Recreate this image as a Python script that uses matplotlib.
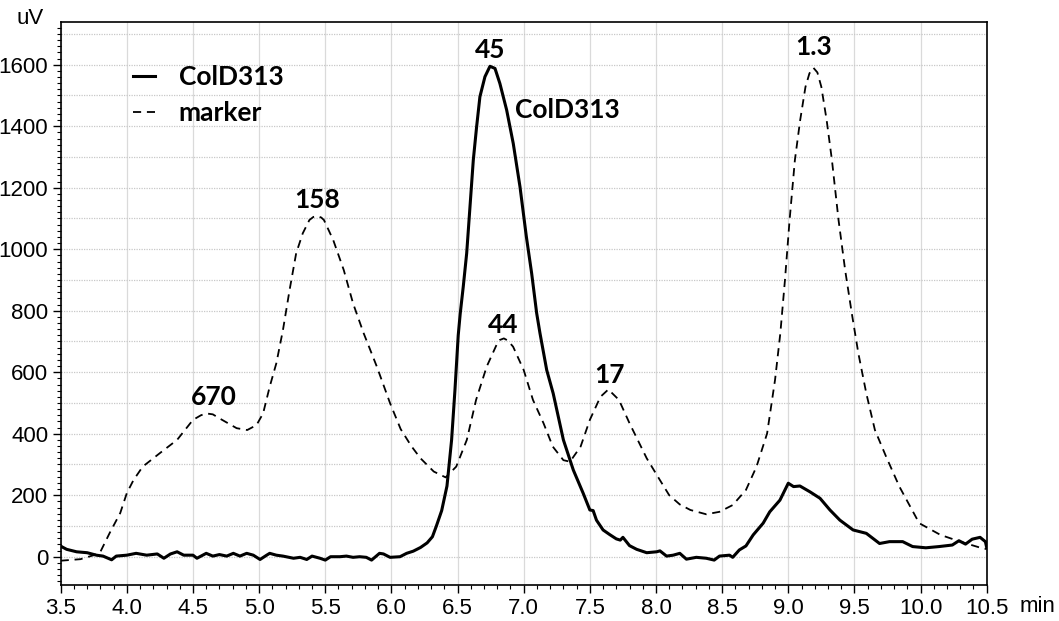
import matplotlib
matplotlib.use("Agg")
import matplotlib.pyplot as plt
from matplotlib.ticker import MultipleLocator, FixedLocator

# ---- data ----
marker_x = [3.50, 3.65, 3.75, 3.80, 3.87, 3.95, 4.00, 4.05, 4.12, 4.25, 4.38, 4.50, 4.56, 4.60, 4.65,
            4.70, 4.83, 4.91, 4.98, 5.03, 5.08, 5.13, 5.18, 5.23, 5.28, 5.33, 5.38, 5.41, 5.44, 5.47,
            5.49, 5.56, 5.64, 5.71, 5.79, 5.89, 5.99, 6.07, 6.15, 6.22, 6.32, 6.41, 6.49, 6.57, 6.64,
            6.72, 6.80, 6.82, 6.85, 6.88, 6.92, 7.00, 7.07, 7.15, 7.22, 7.30, 7.35, 7.43, 7.50, 7.58,
            7.64, 7.72, 7.80, 7.93, 8.03, 8.10, 8.18, 8.26, 8.38, 8.48, 8.58, 8.68, 8.76, 8.84, 8.90,
            8.94, 8.975, 9.01, 9.05, 9.09, 9.13, 9.16, 9.19, 9.22, 9.25, 9.29, 9.33, 9.38, 9.43, 9.48,
            9.53, 9.59, 9.655, 9.74, 9.84, 9.99, 10.15, 10.30, 10.47, 10.50]
marker_y = [-13, -8, 5, 16, 77, 142, 207, 249, 293, 337, 380, 445, 460, 466, 463,
            450, 418, 412, 428, 466, 553, 629, 737, 867, 987, 1052, 1095, 1105, 1108, 1103,
            1095, 1030, 932, 824, 727, 618, 499, 415, 360, 320, 277, 258, 293, 380, 510,
            618, 694, 705, 710, 703, 683, 607, 510, 434, 358, 314, 309, 358, 445, 520,
            544, 510, 434, 320, 249, 200, 170, 152, 138, 146, 168, 217, 293, 401, 575,
            727, 900, 1095, 1290, 1420, 1528, 1572, 1590, 1575, 1528, 1420, 1290, 1095, 932, 792,
            661, 531, 412, 325, 228, 109, 71, 49, 27, 25]

cold_x = [3.50, 3.51, 3.545, 3.62, 3.70, 3.77, 3.82, 3.885, 3.92, 4.00, 4.07, 4.15, 4.23, 4.28, 4.33,
          4.38, 4.43, 4.50, 4.53, 4.60, 4.65, 4.70, 4.755, 4.805, 4.855, 4.906, 4.956, 5.007, 5.057,
          5.08, 5.13, 5.18, 5.26, 5.31, 5.36, 5.40, 5.46, 5.50, 5.54, 5.61, 5.66, 5.71, 5.76, 5.81,
          5.85, 5.91, 5.94, 5.99, 6.065, 6.115, 6.165, 6.22, 6.27, 6.31, 6.34, 6.38, 6.42, 6.455,
          6.48, 6.505, 6.52, 6.543, 6.569, 6.594, 6.619, 6.644, 6.669, 6.707, 6.745, 6.783, 6.82,
          6.871, 6.921, 6.972, 7.02, 7.06, 7.098, 7.123, 7.174, 7.223, 7.30, 7.375, 7.45, 7.50,
          7.525, 7.55, 7.60, 7.65, 7.70, 7.73, 7.75, 7.80, 7.854, 7.93, 8.005, 8.03, 8.08, 8.13,
          8.18, 8.23, 8.305, 8.38, 8.44, 8.48, 8.556, 8.58, 8.63, 8.68, 8.735, 8.81, 8.86, 8.937,
          9.00, 9.04, 9.088, 9.164, 9.24, 9.315, 9.39, 9.49, 9.59, 9.69, 9.765, 9.865, 9.94, 10.04,
          10.14, 10.24, 10.29, 10.34, 10.39, 10.45, 10.49, 10.50]
cold_y = [35, 32, 24, 16, 13, 5, 2, -10, 2, 5, 11, 5, 9, -5, 9,
          16, 5, 5, -5, 11, 2, 7, 2, 11, 2, 11, 5, -9, 5,
          11, 5, 2, -5, -2, -9, 2, -5, -11, 0, 0, 2, -2, 0, -2,
          -11, 11, 9, -2, 0, 11, 18, 30, 45, 65, 100, 150, 230, 380,
          540, 720, 790, 878, 987, 1138, 1290, 1398, 1496, 1561, 1595, 1588, 1539,
          1453, 1344, 1203, 1041, 922, 792, 727, 607, 531, 380, 282, 206, 152,
          150, 119, 87, 72, 58, 54, 63, 36, 24, 13, 16, 19, 2, 5,
          11, -8, -2, -5, -11, 2, 5, -2, 22, 35, 71, 109, 146, 184,
          239, 228, 230, 211, 190, 152, 119, 87, 76, 43, 49, 49, 33, 29,
          33, 38, 52, 41, 57, 63, 49, 30]

peak_labels = ["670", "158", "45", "44", "17", "1.3"]
peak_label_x = [4.66, 5.437, 6.745, 6.843, 7.65, 9.194]
peak_label_y = [519, 1160, 1648, 753, 591, 1658]

series_names = ["ColD313", "marker"]
x_tick_values = [3.5, 4.0, 4.5, 5.0, 5.5, 6.0, 6.5, 7.0, 7.5, 8.0, 8.5, 9.0, 9.5, 10.0, 10.5]
y_tick_values = [0, 200, 400, 600, 800, 1000, 1200, 1400, 1600]

# ---- figure ----
fig = plt.figure(figsize=(10.59, 6.21), dpi=100)
ax = fig.add_axes([60.7 / 1059, 1 - 585 / 621, (986.7 - 60.7) / 1059, (585 - 22) / 621])
ax.set_xlim(3.5, 10.5)
ax.set_ylim(-92, 1739)

# grid
for gx in x_tick_values:
    ax.axvline(gx, color="#dadada", lw=0.9, zorder=0)
for gy in range(0, 1800, 100):
    ax.axhline(gy, color="#c8c8c8", lw=0.9, ls=(0, (1, 1)), zorder=0)

l1, = ax.plot(cold_x, cold_y, color="black", lw=2.2, solid_joinstyle="round", zorder=3)
l2, = ax.plot(marker_x, marker_y, color="black", lw=1.3, ls=(0, (4.5, 3.2)), zorder=2)

ax.xaxis.set_major_locator(FixedLocator(x_tick_values))
ax.xaxis.set_minor_locator(MultipleLocator(0.1))
ax.yaxis.set_major_locator(FixedLocator(y_tick_values))
ax.yaxis.set_minor_locator(MultipleLocator(20))
ax.set_xticklabels([f"{v:.1f}" for v in x_tick_values])
ax.set_yticklabels([str(v) for v in y_tick_values])
ax.tick_params(axis="both", which="major", direction="out", length=6, width=1, labelsize=16, pad=3)
ax.tick_params(axis="both", which="minor", direction="out", length=3, width=0.8)
for lab in ax.get_xticklabels() + ax.get_yticklabels():
    lab.set_family("Liberation Sans")
for s in ax.spines.values():
    s.set_linewidth(1.2)
    s.set_color("black")

fig.text(17 / 1059, 1 - 19 / 621, "uV", fontsize=16, family="Liberation Sans", va="center", ha="left")
fig.text(1020 / 1059, 1 - 607 / 621, "min", fontsize=16, family="Liberation Sans", va="center", ha="left")

for t, xx, yy in zip(peak_labels, peak_label_x, peak_label_y):
    ax.text(xx, yy, t, fontsize=19, fontweight="bold", family="Lato", ha="center", va="center")
ax.text(6.934, 1453, series_names[0], fontsize=19, fontweight="bold", family="Lato", ha="left", va="center")

leg = ax.legend([l1, l2], series_names, loc="upper left", bbox_to_anchor=(0.052, 0.965),
                frameon=False, handlelength=0.85, handletextpad=0.9, labelspacing=0.44,
                prop={"family": "Lato", "weight": "bold", "size": 19})

fig.savefig("out.png", dpi=100, facecolor="white")
